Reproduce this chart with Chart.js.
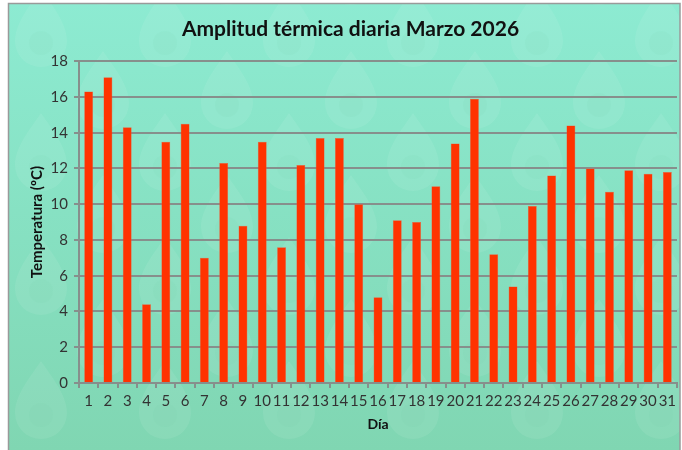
<!DOCTYPE html>
<html>
<head>
<meta charset="utf-8">
<script src="https://cdn.jsdelivr.net/npm/chart.js@4"></script>
<style>
  html, body { margin: 0; padding: 0; background: #ffffff; }
  #wrap { width: 682px; height: 450px; }
</style>
</head>
<body>
<div id="wrap"><canvas id="grafico" width="682" height="450"></canvas></div>
<script>
// Datos
const dias = ["1","2","3","4","5","6","7","8","9","10","11","12","13","14","15","16",
  "17","18","19","20","21","22","23","24","25","26","27","28","29","30","31"];
const amplitud = [16.3, 17.1, 14.3, 4.4, 13.5, 14.5, 7.0, 12.3, 8.8, 13.5, 7.6, 12.2,
  13.7, 13.7, 10.0, 4.8, 9.1, 9.0, 11.0, 13.4, 15.9, 7.2, 5.4, 9.9, 11.6, 14.4,
  12.0, 10.7, 11.9, 11.7, 11.8];
const titulo = "Amplitud térmica diaria Marzo 2026";
const tituloY = "Temperatura (ºC)";
const tituloX = "Día";

const ctx = document.getElementById("grafico");

// gota del fondo (decorativa)
const gota = (c, cx, cy, r) => {
  c.beginPath();
  c.moveTo(cx, cy - r * 2);
  c.bezierCurveTo(cx + r * 0.4, cy - r * 1.4, cx + r, cy - r * 0.7, cx + r, cy);
  c.arc(cx, cy, r, 0, Math.PI, false);
  c.bezierCurveTo(cx - r, cy - r * 0.7, cx - r * 0.4, cy - r * 1.4, cx, cy - r * 2);
  c.closePath();
  c.fill();
};

// fondo verde agua con borde gris
const fondo = {
  id: "fondo",
  beforeDraw(chart) {
    const c = chart.ctx;
    const h = chart.height;
    c.save();
    const g = c.createLinearGradient(0, 0, 0, h);
    g.addColorStop(0, "#8debd2");
    g.addColorStop(1, "#80d6b2");
    c.fillStyle = g;
    c.fillRect(8, 3, 672, h - 3);
    c.beginPath();
    c.rect(8, 3, 672, h - 3);
    c.clip();
    for (let fila = 0; fila < 9; fila++) {
      for (let col = -1; col < 7; col++) {
        const cx = 41 + col * 124 + (fila % 2) * 62;
        const cy = 413 - fila * 62;
        c.fillStyle = "rgba(255,255,255,0.075)";
        gota(c, cx, cy, 26);
        c.fillStyle = "rgba(120,200,170,0.08)";
        c.beginPath();
        c.arc(cx, cy + 2, 12, 0, Math.PI * 2);
        c.fill();
      }
    }
    c.restore();
    c.save();
    c.strokeStyle = "#9a9a9a";
    c.lineWidth = 1.5;
    c.strokeRect(8.5, 3.5, 671.5, h + 5);
    c.restore();
  }
};

new Chart(ctx, {
  type: "bar",
  data: {
    labels: dias,
    datasets: [{
      label: "Amplitud",
      data: amplitud,
      backgroundColor: "#ff3300",
      borderColor: "#f06040",
      borderWidth: 0.5,
      barPercentage: 0.46,
      categoryPercentage: 1,
    }],
  },
  options: {
    responsive: false,
    animation: false,
    layout: { padding: { left: 24, right: 5, top: 0, bottom: 0 } },
    plugins: {
      legend: { display: false },
      tooltip: { enabled: false },
      title: {
        display: true,
        text: titulo,
        color: "#111111",
        font: { family: "Lato", size: 21, weight: "bold" },
        padding: { top: 17, bottom: 19 },
      },
    },
    scales: {
      y: {
        min: 0,
        max: 18,
        ticks: {
          stepSize: 2,
          color: "#333333",
          font: { family: "Lato", size: 15 },
          padding: 6,
        },
        grid: { color: "#878f8c", lineWidth: 2, tickLength: 5 },
        border: { color: "#878f8c", width: 2 },
        title: {
          display: true,
          text: tituloY,
          color: "#111111",
          font: { family: "Lato", size: 15, weight: "bold" },
          padding: { top: 4, bottom: 0 },
        },
        afterFit(scale) { scale.width = 55; },
      },
      x: {
        ticks: {
          color: "#333333",
          font: { family: "Lato", size: 15 },
          padding: 4,
          maxRotation: 0,
          autoSkip: false,
        },
        grid: { drawOnChartArea: false, color: "#878f8c", lineWidth: 2, tickLength: 5 },
        border: { color: "#878f8c", width: 2 },
        title: {
          display: true,
          text: tituloX,
          color: "#111111",
          font: { family: "Lato", size: 14, weight: "bold" },
          padding: { top: 0, bottom: 17 },
        },
        afterFit(scale) { scale.height = 67; },
      },
    },
  },
  plugins: [fondo],
});
</script>
</body>
</html>
